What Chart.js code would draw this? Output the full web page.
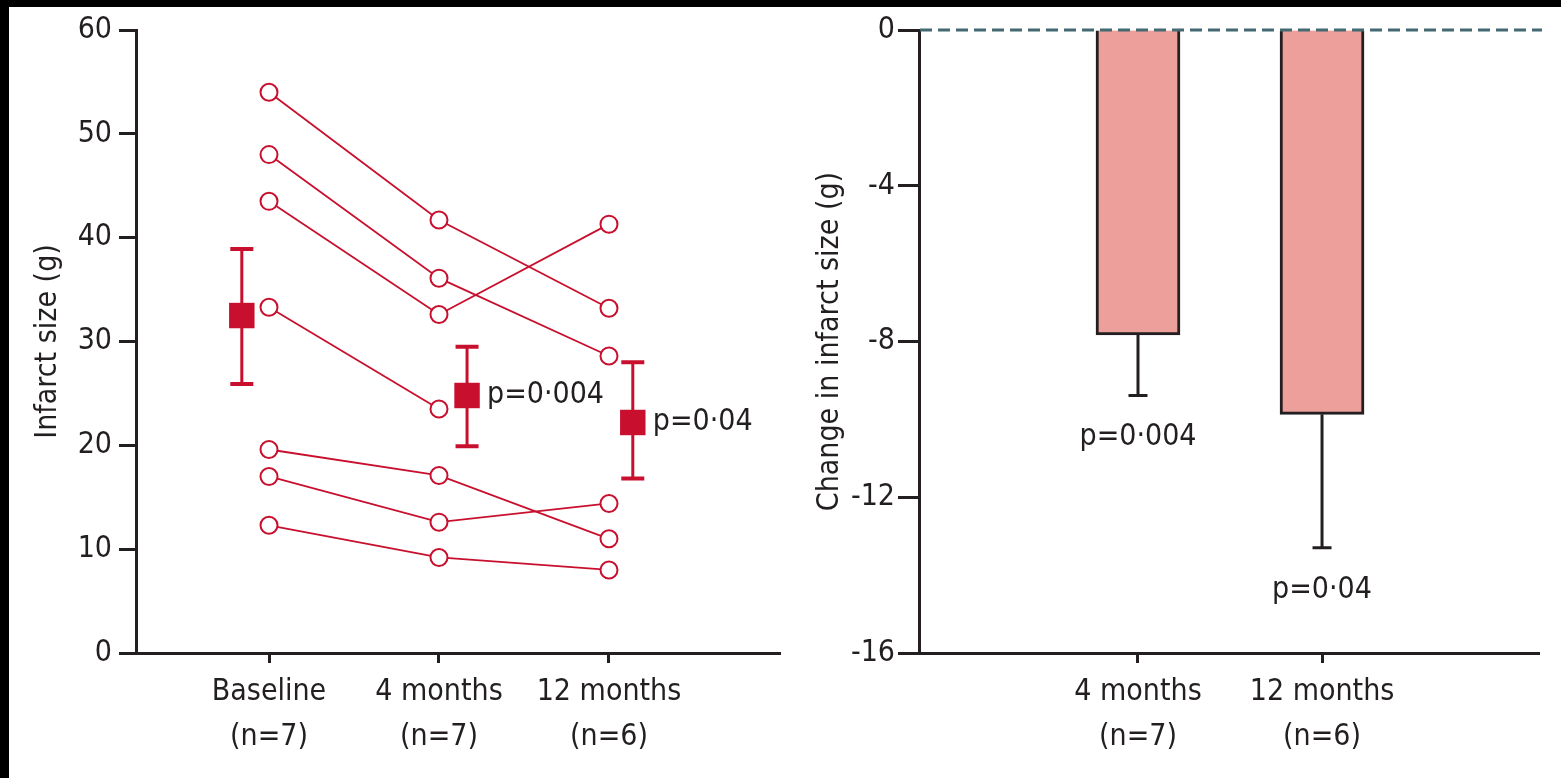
<!DOCTYPE html>
<html>
<head>
<meta charset="utf-8">
<title>Infarct size</title>
<script src="https://cdn.jsdelivr.net/npm/chart.js@4.4.0/dist/chart.umd.min.js"></script>
<style>
    body { margin: 0; background: #fff; width: 1561px; height: 778px; overflow: hidden; position: relative; }
    .frame { position: absolute; background: #000; z-index: 2; }
    #frameTop { left: 0; top: 0; width: 1561px; height: 7px; }
    #frameLeft { left: 0; top: 0; width: 9px; height: 778px; }
    #leftChart { position: absolute; left: 0; top: 0; }
    #rightChart { position: absolute; left: 790px; top: 0; }
</style>
</head>
<body>
<div class="frame" id="frameTop"></div>
<div class="frame" id="frameLeft"></div>
<canvas id="leftChart" width="790" height="778"></canvas>
<canvas id="rightChart" width="771" height="778"></canvas>
<script>
// Left panel: individual infarct size (g) per time point
const timeLabels = [['Baseline', '(n=7)'], ['4 months', '(n=7)'], ['12 months', '(n=6)']];
const patient1 = [54.0, 41.7, 33.2];
const patient2 = [48.0, 36.1, 28.6];
const patient3 = [43.5, 32.6, 41.3];
const patient4 = [33.3, 23.5, null];
const patient5 = [19.6, 17.1, 11.0];
const patient6 = [17.0, 12.6, 14.4];
const patient7 = [12.3, 9.2, 8.0];
const meanValues = [32.5, 24.8, 22.2];
const meanLower = [25.9, 19.9, 16.8];
const meanUpper = [38.9, 29.5, 28.0];
const meanPLabels = ['', 'p=0·004', 'p=0·04'];

// Right panel: change in infarct size (g)
const changeLabels = [['4 months', '(n=7)'], ['12 months', '(n=6)']];
const changeValues = [-7.83, -9.87];
const changeLower = [-9.39, -13.3];
const changePLabels = ['p=0·004', 'p=0·04'];

// styling
const INK = '#231f20';
const RED = '#c8102e';
const BAR = '#eda09b';
const DASH = '#436a73';
const FONT = "'Liberation Sans Narrow', 'DejaVu Sans Condensed', 'Liberation Sans', sans-serif";
const FS = 30;
const meanShift = [-0.16, 0.165, 0.14]; // means drawn beside the columns

Chart.defaults.font.family = FONT;
Chart.defaults.color = INK;

const patients = [patient1, patient2, patient3, patient4, patient5, patient6, patient7];

const patientSets = patients.map(vals => ({
    data: vals.map((v, i) => v === null ? null : { x: i + 1, y: v }).filter(p => p),
    borderColor: RED,
    borderWidth: 1.8,
    pointRadius: 8.5,
    pointBorderWidth: 2,
    pointBorderColor: RED,
    pointBackgroundColor: '#fff',
    tension: 0,
    order: 1
}));

const meanSet = {
    data: meanValues.map((v, i) => ({ x: i + 1 + meanShift[i], y: v })),
    showLine: false,
    pointStyle: 'rect',
    pointRadius: 18,
    pointBorderWidth: 0,
    pointBackgroundColor: RED,
    order: 0
};

function fixWidth(width) {
    return scale => { scale.width = width; scale.paddingTop = 0; scale.paddingBottom = 0; };
}
function fixHeight(height) {
    return scale => { scale.height = height; scale.paddingLeft = 0; scale.paddingRight = 0; };
}

// error bars + p values for the means
const meanBarsPlugin = {
    id: 'meanBars',
    afterDatasetsDraw(chart) {
        const { ctx, scales: { x, y } } = chart;
        ctx.save();
        ctx.strokeStyle = RED;
        meanValues.forEach((v, i) => {
            const px = x.getPixelForValue(i + 1 + meanShift[i]);
            const top = y.getPixelForValue(meanUpper[i]);
            const bot = y.getPixelForValue(meanLower[i]);
            ctx.lineWidth = 3;
            ctx.beginPath();
            ctx.moveTo(px, top);
            ctx.lineTo(px, bot);
            ctx.stroke();
            ctx.lineWidth = 4;
            ctx.beginPath();
            ctx.moveTo(px - 11.5, top);
            ctx.lineTo(px + 11.5, top);
            ctx.moveTo(px - 11.5, bot);
            ctx.lineTo(px + 11.5, bot);
            ctx.stroke();
            if (meanPLabels[i]) {
                ctx.fillStyle = INK;
                ctx.font = FS + 'px ' + FONT;
                ctx.textAlign = 'left';
                ctx.textBaseline = 'middle';
                ctx.fillText(meanPLabels[i], px + 20, y.getPixelForValue(v));
            }
        });
        ctx.restore();
    }
};

new Chart(document.getElementById('leftChart'), {
    type: 'line',
    data: { datasets: [meanSet, ...patientSets] },
    options: {
        responsive: false,
        animation: false,
        layout: { autoPadding: false, padding: { top: 30, right: 10, bottom: 0, left: 0 } },
        plugins: { legend: { display: false }, tooltip: { enabled: false } },
        scales: {
            x: {
                type: 'linear',
                min: 0.2176,
                max: 4.006,
                afterBuildTicks: s => { s.ticks = [1, 2, 3].map(v => ({ value: v })); },
                afterFit: fixHeight(125),
                ticks: {
                    callback: v => timeLabels[v - 1],
                    font: { size: FS, lineHeight: 1.5 },
                    color: INK,
                    padding: 7,
                    maxRotation: 0,
                    autoSkip: false
                },
                grid: { drawOnChartArea: false, tickLength: 10, tickWidth: 3, tickColor: INK },
                border: { color: INK, width: 3 }
            },
            y: {
                min: 0,
                max: 60,
                afterFit: fixWidth(136),
                ticks: { stepSize: 10, font: { size: FS }, color: INK, padding: 7 },
                grid: { drawOnChartArea: false, tickLength: 17, tickWidth: 3, tickColor: INK },
                border: { color: INK, width: 3 },
                title: { display: true, text: 'Infarct size (g)', font: { size: FS, lineHeight: 1.2 }, color: INK, padding: { top: 30, bottom: 0 } }
            }
        }
    },
    plugins: [meanBarsPlugin]
});

// zero line, error whiskers and p values for the bars
const changeExtrasPlugin = {
    id: 'changeExtras',
    afterDatasetsDraw(chart) {
        const { ctx, chartArea, scales: { x, y } } = chart;
        ctx.save();
        ctx.strokeStyle = INK;
        changeValues.forEach((v, i) => {
            const px = x.getPixelForValue(i + 1);
            const from = y.getPixelForValue(v);
            const to = y.getPixelForValue(changeLower[i]);
            ctx.lineWidth = 3;
            ctx.beginPath();
            ctx.moveTo(px, from);
            ctx.lineTo(px, to);
            ctx.moveTo(px - 9.5, to);
            ctx.lineTo(px + 9.5, to);
            ctx.stroke();
            ctx.fillStyle = INK;
            ctx.font = FS + 'px ' + FONT;
            ctx.textAlign = 'center';
            ctx.textBaseline = 'middle';
            ctx.fillText(changePLabels[i], px, to + 42);
        });
        const zero = y.getPixelForValue(0);
        ctx.strokeStyle = DASH;
        ctx.lineWidth = 3;
        ctx.setLineDash([12, 6]);
        ctx.beginPath();
        ctx.moveTo(chartArea.left + 1, zero);
        ctx.lineTo(chartArea.right + 3, zero);
        ctx.stroke();
        ctx.restore();
    }
};

new Chart(document.getElementById('rightChart'), {
    type: 'bar',
    data: {
        datasets: [{
            data: changeValues.map((v, i) => ({ x: i + 1, y: v })),
            backgroundColor: BAR,
            borderColor: INK,
            borderWidth: 3,
            barThickness: 84
        }]
    },
    options: {
        responsive: false,
        animation: false,
        layout: { autoPadding: false, padding: { top: 30, right: 22, bottom: 0, left: 0 } },
        plugins: { legend: { display: false }, tooltip: { enabled: false } },
        scales: {
            x: {
                type: 'linear',
                offset: false,
                min: -0.19,
                max: 3.179,
                afterBuildTicks: s => { s.ticks = [1, 2].map(v => ({ value: v })); },
                afterFit: fixHeight(125),
                ticks: {
                    callback: v => changeLabels[v - 1],
                    font: { size: FS, lineHeight: 1.5 },
                    color: INK,
                    padding: 7,
                    maxRotation: 0,
                    autoSkip: false
                },
                grid: { offset: false, drawOnChartArea: false, tickLength: 10, tickWidth: 3, tickColor: INK },
                border: { color: INK, width: 3 }
            },
            y: {
                min: -16,
                max: 0,
                afterFit: fixWidth(129),
                ticks: { stepSize: 4, font: { size: FS }, color: INK, padding: 3 },
                grid: { drawOnChartArea: false, tickLength: 21, tickWidth: 3, tickColor: INK },
                border: { color: INK, width: 3 },
                title: { display: true, text: 'Change in infarct size (g)', font: { size: FS, lineHeight: 1.2 }, color: INK, padding: { top: 22, bottom: 0 } }
            }
        }
    },
    plugins: [changeExtrasPlugin]
});
</script>
</body>
</html>
